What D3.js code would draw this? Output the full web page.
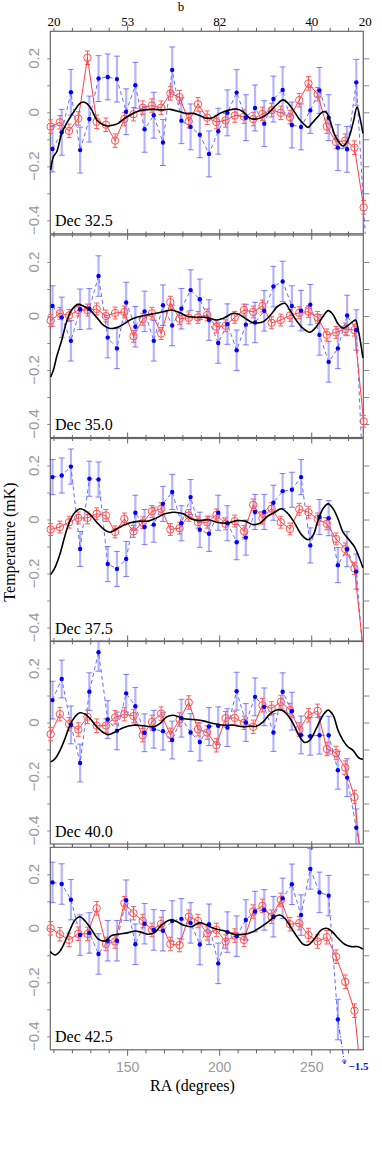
<!DOCTYPE html>
<html>
<head>
<meta charset="utf-8">
<script src="https://cdn.jsdelivr.net/npm/d3@7"></script>
<style>
  body { margin: 0; background: #fff; }
  svg { display: block; }
</style>
</head>
<body>
<div id="chart"></div>
<script>
// ---- data ----
var decLabels = ['Dec 32.5', 'Dec 35.0', 'Dec 37.5', 'Dec 40.0', 'Dec 42.5'];

var redRA = [108.2, 113.2, 118.2, 123.2, 128.2, 133.2, 138.2, 143.2, 148.2, 153.2,
  158.2, 163.2, 168.2, 173.2, 178.2, 183.2, 188.2, 193.2, 198.2, 203.2,
  208.2, 213.2, 218.2, 223.2, 228.2, 233.2, 238.2, 243.2, 248.2, 253.2,
  258.2, 263.2, 268.2, 273.2, 278.2];
var blueRA = [109.2, 114.2, 119.2, 124.2, 129.2, 134.2, 139.2, 144.2, 149.2, 154.2,
  159.2, 164.2, 169.2, 174.2, 179.2, 184.2, 189.2, 194.2, 199.2, 204.2,
  209.2, 214.2, 219.2, 224.2, 229.2, 234.2, 239.2, 244.2, 249.2, 254.2,
  259.2, 264.2, 269.2, 274.2, 279.2];

var red1 = [-0.053, -0.037, -0.069, -0.023, 0.202, -0.035, -0.046, -0.105, -0.025, -0.007,
  0.017, 0.025, 0.017, 0.07, 0.056, -0.033, 0.03, -0.02, -0.036, -0.03,
  -0.012, -0.016, -0.025, -0.006, 0.008, -0.002, -0.018, 0.045, 0.107, 0.067,
  -0.053, -0.11, -0.105, -0.131, -0.352];
var red2 = [-0.017, 0.01, 0.002, 0.022, 0.022, 0.026, 0, 0.011, 0.015, -0.075,
  -0.012, 0.01, -0.065, 0.051, -0.01, -0.007, -0.005, 0.004, -0.04, -0.036,
  -0.005, 0.022, 0.015, 0.037, -0.025, -0.015, 0.002, 0.012, 0.016, -0.005,
  -0.07, -0.061, -0.048, -0.052, -0.39];
var red3 = [-0.037, -0.028, -0.01, 0.006, 0.006, 0.021, 0.015, -0.046, 0.002, -0.044,
  -0.012, 0.03, 0.04, -0.037, -0.032, 0.015, -0.01, -0.01, 0.017, -0.016,
  -0.006, -0.044, 0.054, 0.005, 0.04, -0.01, -0.035, 0.038, 0.027, 0.002,
  -0.016, -0.072, -0.109, -0.181, -0.5];
var red4 = [-0.043, 0.031, -0.006, -0.026, 0.021, -0.012, -0.011, 0.019, 0.031, 0.024,
  -0.047, 0.002, 0.033, -0.046, 0.011, 0.074, -0.025, -0.037, -0.084, 0.016,
  0.017, -0.001, -0.016, 0.064, 0.052, 0.076, 0.046, -0.026, 0.027, 0.043,
  -0.098, -0.113, -0.167, -0.276, -0.62];
var red5 = [0, -0.022, -0.043, -0.02, -0.021, 0.074, -0.058, -0.049, 0.093, 0.056,
  0.027, -0.006, 0.016, -0.058, -0.062, 0.043, 0.027, -0.019, -0.006, -0.049,
  -0.027, -0.043, 0.062, 0.083, 0.043, 0.105, 0.015, 0.019, -0.025, -0.049,
  -0.033, -0.105, -0.198, -0.305, -0.65];

var blue1 = [-0.136, -0.074, 0.074, -0.14, -0.025, 0.125, 0.131, 0.123, 0.002, 0.1,
  -0.063, -0.011, -0.112, 0.157, -0.031, -0.054, -0.083, -0.154, -0.07, -0.002,
  0.073, -0.02, 0.016, -0.042, 0.049, 0.083, -0.047, -0.054, 0.007, 0.081,
  -0.02, -0.131, -0.137, 0.111, -0.47];
var blue2 = [0.037, -0.005, -0.092, 0.025, 0.027, 0.148, -0.08, -0.12, 0.05, -0.04,
  0.017, -0.092, 0.04, -0.035, 0.027, 0.096, 0.062, -0.015, -0.1, -0.03,
  -0.127, -0.032, -0.024, 0.019, 0.109, 0.128, 0.037, 0.02, 0.042, -0.07,
  -0.17, -0.12, 0.002, -0.052, -0.79];
var blue3 = [0.157, 0.163, 0.196, -0.109, 0.151, 0.148, -0.165, -0.183, -0.146, 0.025,
  -0.028, -0.019, 0.058, 0.102, -0.014, 0.083, -0.038, -0.053, 0.025, -0.014,
  -0.084, -0.067, 0.028, 0.028, 0.062, 0.105, 0.11, 0.157, -0.096, 0.009,
  0.005, -0.169, -0.11, -0.193, -0.61];
var blue4 = [0.083, 0.161, -0.009, -0.15, 0.114, 0.26, 0.011, -0.031, 0.108, 0.06,
  -0.038, -0.025, -0.032, -0.065, 0.016, -0.037, -0.072, -0.015, -0.012, -0.019,
  0.116, 0, 0.095, 0.058, -0.037, 0.114, 0.042, -0.046, -0.051, -0.047,
  -0.047, -0.177, -0.204, -0.39, -0.56];
var blue5 = [0.17, 0.164, 0.106, -0.025, -0.017, -0.095, -0.046, -0.046, 0.104, -0.059,
  0.017, -0.006, -0.009, 0.027, 0.035, 0.02, -0.06, 0.015, -0.13, -0.014,
  -0.029, 0.031, 0.062, 0.068, 0.043, 0.111, 0.163, 0.049, 0.22, 0.133,
  0.121, -0.338, -1.5];

var redErr = [0.025, 0.022, 0.022, 0.025, 0.025];
var blueErr = [0.085, 0.075, 0.065, 0.07, 0.075];

// smooth black curve, [RA, T] knots
var black1 = [[108.2,-0.214],[109.7,-0.164],[111.5,-0.146],[114.2,-0.078],[116.9,-0.04],[119.6,-0.01],
  [121.4,0.009],[124.1,0.033],[125.9,0.038],[128.1,0.031],[130.5,0.009],[133.2,-0.028],[136.8,-0.047],
  [139.5,-0.051],[142.2,-0.047],[144.9,-0.041],[147.6,-0.026],[151.3,-0.01],[154.9,0.002],[158.5,0.009],
  [163.9,0.011],[169.3,0.009],[173,0.011],[178.4,0.002],[182,-0.004],[185.6,-0.004],[189.2,-0.012],
  [192.9,-0.022],[196.5,-0.019],[200.1,-0.004],[205.5,0.009],[209.1,0.012],[212.7,0.002],[216.4,-0.022],
  [220,-0.025],[223.6,-0.016],[226.3,-0.004],[230.8,0.027],[234.4,0.046],[237.2,0.033],[239.9,0.009],
  [243.5,-0.028],[246.2,-0.047],[248,-0.056],[249.8,-0.043],[253.4,-0.016],[256.1,0.002],[258,-0.001],
  [259.8,-0.028],[262.5,-0.084],[265.2,-0.115],[267,-0.125],[269.7,-0.102],[272.4,-0.041],[274.6,0.019],
  [276.4,-0.028],[277.8,-0.078]];
var black2 = [[108.2,-0.226],[109.7,-0.2],[111.5,-0.15],[114.2,-0.09],[116.9,-0.02],[119.6,0.022],
  [123.2,0.043],[125.9,0.037],[129.6,0.022],[133.2,-0.005],[136.8,-0.034],[140.4,-0.046],[144,-0.043],
  [147.6,-0.031],[151.3,-0.015],[154.9,-0.005],[160.3,0.004],[165.7,0.01],[171.2,0.019],[173.9,0.022],
  [178.4,0.012],[182,0],[187.4,-0.005],[192.9,-0.005],[198.3,-0.015],[201.9,-0.009],[207.3,0.01],
  [210,0.007],[214.6,-0.012],[218.2,-0.025],[223.6,-0.021],[227.2,0],[231.7,0.037],[235.4,0.047],
  [238.1,0.022],[241.7,-0.017],[245.3,-0.046],[248.9,-0.06],[252.5,-0.04],[256.1,-0.002],[258.9,0.02],
  [261.6,0.005],[264.3,-0.03],[267,-0.045],[269.7,-0.035],[272.4,-0.02],[273.8,-0.015],[275.5,-0.06],
  [277.8,-0.155]];
var black3 = [[108.2,-0.204],[110.6,-0.177],[113.3,-0.127],[116,-0.059],[118.7,-0.004],[121.4,0.027],
  [124.1,0.04],[126.9,0.033],[129.6,0.019],[133.2,-0.01],[136.8,-0.035],[140.4,-0.047],[144,-0.035],
  [147.6,-0.022],[151.3,-0.012],[156.7,-0.006],[161.2,-0.006],[165.7,0.006],[170.3,0.021],[174.8,0.027],
  [180.2,0.021],[184.7,0.002],[189.2,-0.004],[193.8,-0.001],[198.3,-0.01],[203.7,-0.014],[209.1,-0.004],
  [213.7,-0.006],[218.2,-0.019],[221.8,-0.014],[225.4,0.009],[229.9,0.027],[233.5,0.04],[236.3,0.027],
  [239.9,-0.004],[244.4,-0.056],[248,-0.075],[250.7,-0.059],[253.4,-0.004],[256.1,0.04],[258.9,0.058],
  [261.6,0.04],[264.3,0.002],[267,-0.047],[270.6,-0.078],[273.3,-0.102],[275.7,-0.14],[277.8,-0.179]];
var black4 = [[108.2,-0.146],[110.6,-0.134],[113.3,-0.103],[116,-0.059],[118.7,-0.01],[121.4,0.021],
  [124.1,0.036],[126.9,0.031],[129.6,0.015],[133.2,-0.016],[136.8,-0.037],[139.5,-0.045],[143.1,-0.035],
  [147.6,-0.019],[153.1,-0.01],[158.5,-0.012],[163.9,-0.016],[167.5,-0.004],[171.2,0.021],[174.8,0.027],
  [180.2,0.015],[185.6,0.011],[191,0.006],[196.5,-0.004],[201.9,-0.01],[207.3,-0.01],[212.7,-0.016],
  [216.4,-0.014],[220,-0.014],[223.6,0.002],[227.2,0.031],[230.8,0.046],[233.5,0.046],[236.3,0.033],
  [239.9,-0.004],[243.5,-0.053],[246.2,-0.074],[248.9,-0.066],[252.5,-0.022],[256.1,0.027],[258.9,0.046],
  [261.6,0.027],[264.3,-0.029],[267,-0.066],[269.7,-0.09],[272.4,-0.103],[275.1,-0.128],[276.4,-0.134],
  [277.8,-0.136]];
var black5 = [[108,-0.086],[110.6,-0.099],[113.3,-0.084],[116,-0.049],[118.7,-0.006],[121.4,0.031],
  [124.1,0.043],[126.9,0.027],[130.5,-0.006],[134.1,-0.04],[137.7,-0.047],[141.3,-0.027],[144.9,-0.022],
  [150.4,-0.016],[154,-0.01],[157.6,-0.015],[161.2,-0.022],[164.8,-0.015],[168.4,0.012],[173,0.031],
  [176.6,0.025],[180.2,0.012],[184.7,0.006],[189.2,0.021],[192.9,0.012],[197.4,-0.002],[202.8,-0.01],
  [208.2,-0.022],[213.7,-0.022],[217.3,-0.015],[221.8,0.002],[225.4,0.019],[229.9,0.043],[232.6,0.049],
  [235.4,0.037],[239,0],[242.6,-0.037],[245.3,-0.059],[248,-0.062],[251.6,-0.037],[255.2,-0.006],
  [258,0],[260.7,-0.01],[264.3,-0.037],[267.9,-0.059],[271.5,-0.068],[275.1,-0.068],[277.8,-0.077]];

var raTicks = [110, 120, 130, 140, 150, 160, 170, 180, 190, 200, 210, 220, 230, 240, 250, 260, 270];
var raMajor = [150, 200, 250];
var bTicks = [110, 150, 200, 250, 279];
var bLabels = ['20', '53', '82', '40', '20'];
var tempTicks = [0.2, 0.1, 0, -0.1, -0.2, -0.3, -0.4];
var tempLabels = [0.2, 0, -0.2, -0.4];

var reds = [red1, red2, red3, red4, red5];
var blues = [blue1, blue2, blue3, blue4, blue5];
var blacks = [black1, black2, black3, black4, black5];

// ---- layout ----
var width = 382, height = 1161;
var panelTop = [31.3, 235, 438.5, 641.5, 847.3],
    panelH = 202.5;
var serif = '"Liberation Serif", "Times New Roman", serif',
    sans = '"Liberation Sans", Arial, sans-serif',
    grey = '#9a9a9a';

var x = d3.scaleLinear().domain([108, 278]).range([50.3, 363.3]);

var svg = d3.select('#chart').append('svg')
  .attr('width', width)
  .attr('height', height);

var defs = svg.append('defs');
defs.append('marker')
  .attr('id', 'arrow')
  .attr('viewBox', '0 0 10 10')
  .attr('refX', 9).attr('refY', 5)
  .attr('markerWidth', 5).attr('markerHeight', 5)
  .attr('orient', 'auto')
  .append('path')
  .attr('d', 'M0,0 L10,5 L0,10')
  .attr('fill', 'none')
  .attr('stroke', '#3030ff')
  .attr('stroke-width', 1.6);

var fmt = d3.format('');
var inRange = function(v) { return v >= -0.45 && v <= 0.3; };

decLabels.forEach(function(label, i) {
  var top = panelTop[i], bottom = top + panelH;
  var y = d3.scaleLinear().domain([-0.45, 0.3]).range([bottom, top]);
  var g = svg.append('g').attr('class', 'panel');

  defs.append('clipPath').attr('id', 'clip' + i)
    .append('rect')
    .attr('x', x.range()[0] - 5).attr('y', top)
    .attr('width', x.range()[1] - x.range()[0] + 10).attr('height', panelH);

  // frame
  g.append('rect')
    .attr('x', x.range()[0]).attr('y', top)
    .attr('width', x.range()[1] - x.range()[0]).attr('height', panelH)
    .attr('fill', 'none').attr('stroke', '#666').attr('stroke-width', 1.2);

  // right ticks
  g.append('g')
    .attr('transform', 'translate(' + x.range()[1] + ',0)')
    .call(d3.axisRight(y).tickValues(tempTicks).tickSize(6).tickFormat(''))
    .call(function(a) { a.select('.domain').remove(); a.selectAll('line').attr('stroke', '#888'); });

  // left ticks + rotated labels
  g.append('g')
    .attr('transform', 'translate(' + x.range()[0] + ',0)')
    .call(d3.axisLeft(y).tickValues(tempTicks).tickSize(3).tickFormat(''))
    .call(function(a) { a.select('.domain').remove(); a.selectAll('line').attr('stroke', '#888'); });

  g.selectAll('.ylab')
    .data(tempLabels)
    .enter().append('text')
    .attr('class', 'ylab')
    .attr('transform', function(d) { return 'translate(33,' + y(d) + ') rotate(-90)'; })
    .attr('text-anchor', 'middle')
    .attr('dominant-baseline', 'central')
    .style('font-family', sans).style('font-size', '15px')
    .style('fill', grey)
    .text(function(d) { return fmt(d); });

  // RA ticks, top and bottom of each panel
  [[top, -1], [bottom, 1]].forEach(function(side) {
    g.selectAll(null)
      .data(raTicks)
      .enter().append('line')
      .attr('x1', function(d) { return x(d); })
      .attr('x2', function(d) { return x(d); })
      .attr('y1', side[0])
      .attr('y2', function(d) { return side[0] + side[1] * (raMajor.indexOf(d) >= 0 ? 6 : 3.5); })
      .attr('stroke', '#666').attr('stroke-width', 1);
  });

  var plot = g.append('g').attr('clip-path', 'url(#clip' + i + ')');

  // blue series (dashed)
  var bvals = blues[i];
  var bpts = bvals.map(function(v, k) { return {ra: blueRA[k], v: v}; });
  var bline = bpts.filter(function(d) { return d.v > -1; });
  var bin = bpts.filter(function(d) { return inRange(d.v); });

  plot.selectAll('.bbar')
    .data(bin)
    .enter().append('line')
    .attr('x1', function(d) { return x(d.ra); })
    .attr('x2', function(d) { return x(d.ra); })
    .attr('y1', function(d) { return y(d.v - blueErr[i]); })
    .attr('y2', function(d) { return y(d.v + blueErr[i]); })
    .attr('stroke', 'rgba(70,70,255,0.4)').attr('stroke-width', 2.2);

  plot.selectAll('.bcap')
    .data(bin)
    .enter().append('path')
    .attr('d', function(d) {
      var cx = x(d.ra), y0 = y(d.v - blueErr[i]), y1 = y(d.v + blueErr[i]);
      return 'M' + (cx - 3) + ',' + y0 + 'H' + (cx + 3) + 'M' + (cx - 3) + ',' + y1 + 'H' + (cx + 3);
    })
    .attr('stroke', 'rgba(50,50,255,0.6)').attr('stroke-width', 1).attr('fill', 'none');

  plot.append('path')
    .datum(bline)
    .attr('d', d3.line().x(function(d) { return x(d.ra); }).y(function(d) { return y(d.v); }))
    .attr('fill', 'none')
    .attr('stroke', '#6a6aff').attr('stroke-width', 1)
    .attr('stroke-dasharray', '4,3');

  // red series
  var rpts = reds[i].map(function(v, k) { return {ra: redRA[k], v: v}; });
  var rin = rpts.filter(function(d) { return inRange(d.v); });

  plot.selectAll('.rbar')
    .data(rin)
    .enter().append('path')
    .attr('d', function(d) {
      var cx = x(d.ra), y0 = y(d.v - redErr[i]), y1 = y(d.v + redErr[i]);
      return 'M' + cx + ',' + y0 + 'V' + y1 +
        'M' + (cx - 2.5) + ',' + y0 + 'H' + (cx + 2.5) +
        'M' + (cx - 2.5) + ',' + y1 + 'H' + (cx + 2.5);
    })
    .attr('stroke', '#ff5a5a').attr('stroke-width', 1).attr('fill', 'none');

  plot.append('path')
    .datum(rpts)
    .attr('d', d3.line().x(function(d) { return x(d.ra); }).y(function(d) { return y(d.v); }))
    .attr('fill', 'none')
    .attr('stroke', '#ff4040').attr('stroke-width', 1);

  plot.selectAll('.rpt')
    .data(rin)
    .enter().append('circle')
    .attr('cx', function(d) { return x(d.ra); })
    .attr('cy', function(d) { return y(d.v); })
    .attr('r', 3.7)
    .attr('fill', 'none')
    .attr('stroke', '#ff5050').attr('stroke-width', 1);

  plot.selectAll('.bpt')
    .data(bin)
    .enter().append('circle')
    .attr('cx', function(d) { return x(d.ra); })
    .attr('cy', function(d) { return y(d.v); })
    .attr('r', 2.2)
    .attr('fill', '#0000ff');

  // black smooth curve
  plot.append('path')
    .datum(blacks[i])
    .attr('d', d3.line()
      .x(function(d) { return x(d[0]); })
      .y(function(d) { return y(d[1]); })
      .curve(d3.curveCatmullRom.alpha(0.5)))
    .attr('fill', 'none')
    .attr('stroke', '#000').attr('stroke-width', 1.6);

  // off-scale point: arrow and value
  bpts.forEach(function(d, k) {
    if (d.v > -1) return;
    var prev = bpts[k - 1];
    svg.append('line')
      .attr('x1', x(prev.ra)).attr('y1', y(prev.v))
      .attr('x2', x(d.ra) - 2.5).attr('y2', bottom + 14)
      .attr('stroke', '#3a3aff').attr('stroke-width', 1)
      .attr('stroke-dasharray', '5,2,1,2')
      .attr('marker-end', 'url(#arrow)');
    svg.append('text')
      .attr('x', x(d.ra) + 1.5).attr('y', bottom + 20)
      .style('font-family', serif).style('font-size', '11px').style('font-weight', 'bold')
      .style('fill', '#1010ee')
      .text(fmt(d.v));
  });

  g.append('text')
    .attr('x', 55).attr('y', bottom - 7.5)
    .style('font-family', serif).style('font-size', '16px')
    .style('fill', '#000')
    .text(label);

  if (i === 0) {
    g.selectAll(null)
      .data(bTicks)
      .enter().append('text')
      .attr('x', function(d) { return x(d); })
      .attr('y', 25.5)
      .attr('text-anchor', 'middle')
      .style('font-family', serif).style('font-size', '13px')
      .text(function(d, k) { return bLabels[k]; });
    g.append('text')
      .attr('x', 181).attr('y', 11)
      .attr('text-anchor', 'middle')
      .style('font-family', serif).style('font-size', '13px')
      .text('b');
  }

  if (i === decLabels.length - 1) {
    g.selectAll(null)
      .data(raMajor)
      .enter().append('text')
      .attr('x', function(d) { return x(d); })
      .attr('y', bottom + 22)
      .attr('text-anchor', 'middle')
      .style('font-family', sans).style('font-size', '14px')
      .style('fill', grey)
      .text(function(d) { return d; });
    g.append('text')
      .attr('x', 192.5).attr('y', bottom + 41)
      .attr('text-anchor', 'middle')
      .style('font-family', serif).style('font-size', '16px')
      .text('RA (degrees)');
  }
});

svg.append('text')
  .attr('transform', 'translate(9,542) rotate(-90)')
  .attr('text-anchor', 'middle')
  .attr('dominant-baseline', 'central')
  .style('font-family', serif).style('font-size', '16px')
  .text('Temperature (mK)');
</script>
</body>
</html>
